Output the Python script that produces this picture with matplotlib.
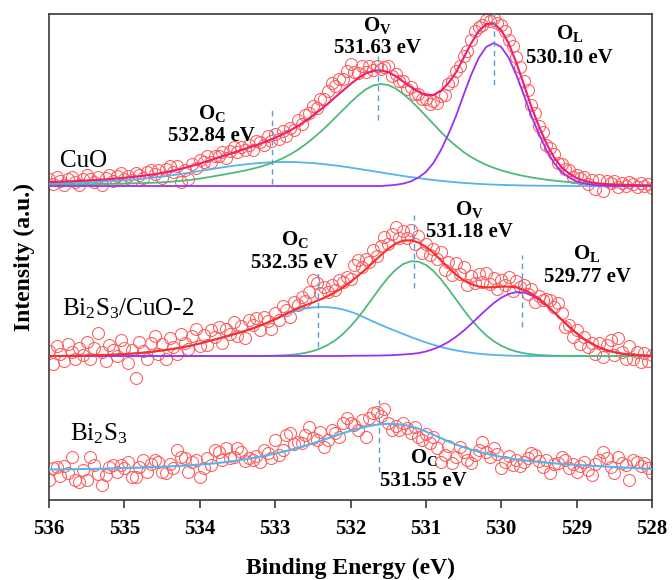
import numpy as np
import matplotlib.pyplot as plt

# O 1s XPS spectra: CuO, Bi2S3/CuO-2, Bi2S3 (stacked, arbitrary units)

# energy axis of the scan (eV): fit curves every 0.1 eV, raw points every 0.05 eV
e_fit = np.linspace(536, 528, 81)
e_raw = np.linspace(536, 528, 161)

# ---------------- CuO ----------------
cuo_oc = [2.5, 2.7, 2.9, 3.1, 3.4, 3.7, 4.0, 4.4, 4.8, 5.3,
          5.8, 6.4, 7.0, 7.7, 8.5, 9.4, 10.4, 11.5, 12.6, 13.8,
          15.0, 16.2, 17.4, 18.6, 19.7, 20.7, 21.6, 22.4, 23.0, 23.5,
          23.8, 24.0, 24.0, 23.8, 23.4, 22.9, 22.2, 21.4, 20.5, 19.5,
          18.4, 17.2, 16.0, 14.8, 13.6, 12.4, 11.2, 10.0, 8.9, 7.9,
          6.9, 6.0, 5.2, 4.4, 3.7, 3.1, 2.6, 2.1, 1.7, 1.4,
          1.1, 0.9, 0.7, 0.5, 0.4, 0.3, 0.2, 0.2, 0.1, 0.1,
          0, 0, 0, 0, 0, 0, 0, 0, 0, 0,
          0]
cuo_ov = [1.4, 1.5, 1.5, 1.6, 1.7, 1.8, 1.9, 2.0, 2.1, 2.2,
          2.4, 2.6, 2.8, 3.0, 3.3, 3.7, 4.2, 4.8, 5.5, 6.4,
          7.4, 8.6, 9.9, 11.2, 12.6, 14.0, 15.5, 17.2, 19.2, 21.6,
          24.4, 27.7, 31.6, 36.2, 41.5, 47.5, 54, 61, 68.5, 76,
          83.5, 90.5, 96.5, 100.5, 102, 101, 97.5, 92, 85.5, 78,
          70, 62, 54, 46.5, 40, 34, 29, 24.8, 21.2, 18.2,
          15.7, 13.5, 11.6, 10.0, 8.6, 7.4, 6.3, 5.4, 4.6, 3.9,
          3.3, 2.8, 2.4, 2.0, 1.7, 1.4, 1.2, 1.0, 0.8, 0.6,
          0.5]
cuo_ol = [0, 0, 0, 0, 0, 0, 0, 0, 0, 0,
          0, 0, 0, 0, 0, 0, 0, 0, 0, 0,
          0, 0, 0, 0, 0, 0, 0, 0, 0, 0,
          0, 0, 0, 0, 0, 0, 0, 0, 0, 0,
          0, 0, 0, 0, 0, 0.5, 1.2, 2.4, 4.6, 8.4,
          14, 23, 36, 52, 70, 91, 111, 128, 139, 143,
          139, 128, 111, 91, 70, 52, 36, 23, 14, 8.4,
          4.6, 2.4, 1.2, 0.5, 0.2, 0, 0, 0, 0, 0,
          0]
cuo_raw = [7, 2, 9, 5, 1, 7, 9, 4, 1, 7,
           11, 7, 4, 9, 1, 8, 11, 5, 10, 13,
           7, 10, 6, 13, 11, 8, 14, 16, 12, 16,
           8, 17, 20, 14, 20, 4, 16, 7, 22, 18,
           26, 24, 30, 24, 30, 30, 34, 28, 35, 39,
           34, 39, 36, 41, 36, 45, 44, 41, 50, 45,
           52, 47, 55, 50, 58, 56, 66, 62, 71, 73,
           80, 78, 87, 87, 95, 103, 100, 107, 107, 115,
           122, 114, 113, 120, 114, 120, 116, 120, 117, 119,
           120, 110, 112, 105, 105, 97, 99, 92, 92, 87,
           87, 82, 85, 83, 90, 91, 102, 105, 115, 120,
           130, 135, 146, 155, 159, 161, 166, 165, 168, 163,
           161, 155, 146, 140, 129, 119, 105, 96, 81, 73,
           60, 54, 41, 38, 32, 23, 22, 17, 16, 9,
           11, 8, 9, 2, 6, -3, 6, -5, 5, 3,
           5, -1, 3, 0, 4, 2, -1, 3, 0, 2,
           -2]

# ---------------- Bi2S3/CuO-2 ----------------
mix_oc = [0, 0, 0.1, 0.2, 0.3, 0.5, 0.7, 0.9, 1.2, 1.5,
          1.9, 2.4, 3.0, 3.7, 4.5, 5.5, 6.6, 7.8, 9.2, 10.7,
          12.5, 14.5, 16.5, 18.5, 20.6, 22.8, 25.1, 27.6, 30.3, 33.2,
          36.5, 40.0, 43.2, 45.8, 47.6, 48.6, 49.0, 48.8, 48.0, 46.5,
          44.3, 41.5, 38.0, 34.5, 31.2, 28.0, 25.0, 22.0, 19.0, 16.2,
          13.6, 11.2, 9.0, 7.2, 5.6, 4.3, 3.2, 2.3, 1.6, 1.1,
          0.7, 0.4, 0.2, 0.1, 0, 0, 0, 0, 0, 0,
          0, 0, 0, 0, 0, 0, 0, 0, 0, 0,
          0]
mix_ov = [0, 0, 0, 0, 0, 0, 0, 0, 0, 0,
          0, 0, 0, 0, 0, 0, 0, 0, 0, 0,
          0, 0, 0, 0, 0, 0, 0, 0, 0.1, 0.2,
          0.35, 0.6, 1.1, 1.9, 3.1, 4.9, 7.5, 11.1, 15.9, 22,
          29.6, 38.4, 48.3, 58.7, 69, 78.5, 86.4, 92, 94.7, 94.4,
          91.1, 85, 76.7, 67, 56.6, 46.2, 36.6, 28, 20.7, 14.8,
          10.3, 6.9, 4.5, 2.8, 1.7, 1.0, 0.6, 0.3, 0.2, 0.1,
          0, 0, 0, 0, 0, 0, 0, 0, 0, 0,
          0]
mix_ol = [0, 0, 0, 0, 0, 0, 0, 0, 0, 0,
          0, 0, 0, 0, 0, 0, 0, 0, 0, 0,
          0, 0, 0, 0, 0, 0, 0, 0, 0, 0,
          0, 0, 0, 0, 0, 0, 0, 0, 0, 0.1,
          0.2, 0.3, 0.3, 0.4, 0.5, 0.7, 1.0, 1.5, 2.0, 2.9,
          4.5, 6.9, 10, 14.1, 19.2, 25.2, 32, 39.2, 46.3, 52.9,
          58.3, 62.1, 63.9, 63.5, 60.8, 56.3, 50.4, 43.5, 36.3, 29.2,
          22.7, 17, 12.3, 8.6, 5.8, 3.8, 2.4, 1.5, 0.9, 0.5,
          0.25]
mix_raw = [5, -8, 10, 2, -5, 12, 4, -3, 8, 1,
           14, -3, 8, 23, 4, -5, 11, 6, 0, 16,
           8, -7, 6, -22, 14, 5, -3, 13, 20, 2,
           12, -3, 18, 9, 2, 22, 13, 7, 20, 27,
           10, 21, 11, 26, 19, 29, 13, 27, 22, 34,
           20, 30, 18, 36, 31, 38, 26, 39, 35, 27,
           43, 36, 50, 46, 39, 54, 51, 59, 55, 64,
           76, 73, 63, 69, 64, 71, 66, 76, 74, 79,
           77, 91, 96, 89, 97, 94, 106, 100, 110, 119,
           112, 122, 129, 118, 125, 118, 126, 112, 120, 103,
           112, 101, 107, 97, 104, 86, 94, 81, 93, 82,
           89, 71, 80, 73, 82, 74, 83, 72, 78, 67,
           76, 71, 79, 65, 75, 69, 71, 62, 67, 54,
           60, 56, 57, 56, 49, 53, 43, 29, 31, 19,
           26, 12, 19, 9, 13, 2, 13, -1, 11, 16,
           1, 18, 4, -3, 10, -3, 4, -6, 3, -5,
           1]

# ---------------- Bi2S3 ----------------
bi_oc = [0.5, 0.6, 0.7, 0.8, 0.9, 1.0, 1.1, 1.3, 1.5, 1.7,
         1.9, 2.1, 2.3, 2.6, 2.9, 3.2, 3.6, 4.0, 4.4, 4.9,
         5.4, 6.0, 6.7, 7.5, 8.4, 9.5, 10.7, 12.0, 13.4, 14.9,
         16.5, 18.2, 20.0, 22.0, 24.2, 26.6, 29.1, 31.7, 34.3, 36.8,
         39.1, 41.3, 43.2, 44.8, 45.8, 46.2, 46.0, 45.2, 43.8, 41.4,
         38.5, 35.2, 31.8, 28.5, 25.5, 22.8, 20.4, 18.2, 16.3, 14.6,
         13.1, 11.8, 10.7, 9.7, 8.8, 8.0, 7.3, 6.7, 6.1, 5.6,
         5.1, 4.6, 4.2, 3.8, 3.4, 3.0, 2.6, 2.2, 1.8, 1.4,
         1.0]
bi_raw = [-10, 2, 3, -6, 4, -3, 13, -10, -12, 0,
          -10, 13, 5, -4, -15, -5, 3, 5, -2, 5,
          2, 8, -7, -7, 3, 10, -2, 6, 10, 8,
          -2, -3, 6, 2, 20, 13, 12, -2, 8, 10,
          -7, 2, 12, 5, 20, 18, 10, 22, 12, 13,
          22, 18, 9, 12, 10, 14, 8, 20, 17, 12,
          30, 15, 20, 35, 37, 26, 28, 27, 35, 43,
          32, 30, 38, 23, 30, 40, 37, 33, 47, 52,
          47, 45, 40, 50, 33, 52, 57, 58, 54, 61,
          47, 40, 44, 40, 47, 42, 37, 43, 33, 30,
          36, 27, 33, 22, 8, 15, 24, 7, 13, 23,
          18, 10, 7, 15, 20, 28, 18, 13, 22, 16,
          2, 8, 14, 5, 10, 4, 8, 12, 17, 15,
          9, 3, 10, -3, 6, 7, 13, 10, 2, 6,
          -2, 4, 8, 0, -5, 6, 10, 18, 12, 3,
          -3, 13, 7, 5, -10, 10, 8, 4, 7, 2,
          -3]

# fitted peak positions written on the chart
peak_labels = ['532.84 eV', '531.63 eV', '530.10 eV',
               '532.35 eV', '531.18 eV', '529.77 eV',
               '531.55 eV']
peak_names = ['C', 'V', 'L', 'C', 'V', 'L', 'C']

# ---------------- styles / layout ----------------
plt.rcParams['font.family'] = ['Liberation Serif', 'DejaVu Serif']
plt.rcParams['mathtext.fontset'] = 'custom'
plt.rcParams['mathtext.rm'] = 'Liberation Serif'
plt.rcParams['mathtext.bf'] = 'Liberation Serif:bold'
plt.rcParams['mathtext.it'] = 'Liberation Serif:italic'

c_raw = '#ff5a5a'
c_oc = '#55b4f0'
c_ov = '#4cbb78'
c_ol = '#9a32f5'
c_env_cuo = '#f01c6c'
c_env_mix = '#ff2a2a'
c_dash = '#5b9bd5'
axis_col = '#3a3a3a'

# vertical stacking offsets
off_cuo, off_mix, off_bi = 314, 144, 30

fig = plt.figure(figsize=(6.72, 5.8), dpi=100)
ax = fig.add_axes([49 / 672, 80 / 580, 603 / 672, 486 / 580])

raw_style = dict(linestyle='none', marker='o', markersize=8.6, markerfacecolor='none',
                 markeredgecolor=c_raw, markeredgewidth=0.75, zorder=2)

# raw data
ax.plot(e_raw, np.array(cuo_raw) + off_cuo, **raw_style)
ax.plot(e_raw, np.array(mix_raw) + off_mix, **raw_style)
ax.plot(e_raw, np.array(bi_raw) + off_bi, **raw_style)

# fit components and envelopes
for comps, off, env_col in [((cuo_oc, cuo_ov, cuo_ol), off_cuo, c_env_cuo),
                            ((mix_oc, mix_ov, mix_ol), off_mix, c_env_mix)]:
    for comp, col in zip(comps, (c_oc, c_ov, c_ol)):
        ax.plot(e_fit, np.array(comp) + off, color=col, lw=1.3, zorder=3)
    envelope = np.sum([np.array(c) for c in comps], axis=0)
    ax.plot(e_fit, envelope + off, color=env_col, lw=1.5, zorder=4)

ax.plot(e_fit, np.array(bi_oc) + off_bi, color=c_oc, lw=1.5, zorder=3)

# dashed marker lines (x in eV, y range in axis units)
dash_x = [533.04, 531.63, 530.10, 532.43, 531.16, 529.73, 531.62]
dash_lo = [316, 380, 415, 153, 212, 173, 28]
dash_hi = [390, 445, 490, 230, 285, 245, 100]
ax.vlines(dash_x, dash_lo, dash_hi, colors=c_dash, linestyles=(0, (4, 3)), lw=1.0, zorder=5)

# peak annotations: (x of name, y of name, y of energy)
label_pos = [(533.84, 386, 364), (531.64, 475, 452), (529.09, 466, 442),
             (532.74, 260, 237), (530.42, 291, 268), (528.86, 246, 223),
             (531.03, 43, 19)]
for (x, y1, y2), name, txt in zip(label_pos, peak_names, peak_labels):
    ax.text(x, y1, r'$\mathbf{O_{%s}}$' % name, fontsize=15, ha='center', va='center', zorder=6)
    ax.text(x, y2, txt, fontsize=15, fontweight='bold', ha='center', va='center', zorder=6)

# sample names
ax.text(535.85, 333, 'CuO', fontsize=18, ha='left', va='baseline')
ax.text(535.83, 185, r'Bi$_\mathregular{2}$S$_\mathregular{3}$/CuO-2', fontsize=18,
        ha='left', va='baseline')
ax.text(535.72, 60, r'Bi$_\mathregular{2}$S$_\mathregular{3}$', fontsize=18,
        ha='left', va='baseline')

# axes
ax.set_xlim(536, 528)
ax.set_ylim(0, 486)
ax.set_xticks([536, 535, 534, 533, 532, 531, 530, 529, 528])
ax.set_yticks([])
ax.tick_params(axis='x', direction='out', length=6, width=1.2, color=axis_col,
               labelsize=15, pad=8)
for lab in ax.get_xticklabels():
    lab.set_fontweight('bold')
for sp in ax.spines.values():
    sp.set_color(axis_col)
    sp.set_linewidth(1.2)

ax.set_xlabel('Binding Energy (eV)', fontsize=17, fontweight='bold', labelpad=13)
ax.set_ylabel('Intensity (a.u.)', fontsize=17, fontweight='bold', labelpad=10)

fig.savefig('out.png', dpi=100)
